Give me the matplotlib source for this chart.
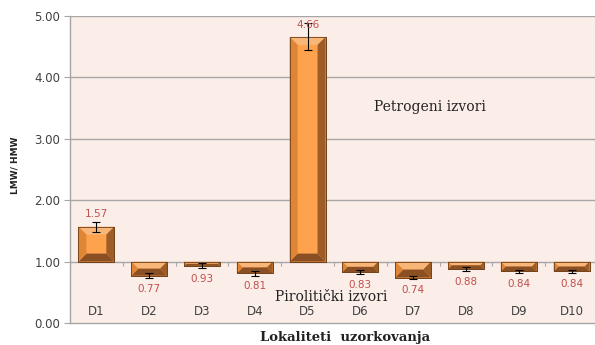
import matplotlib
matplotlib.use("Agg")
import matplotlib.pyplot as plt
from matplotlib.patches import Polygon
import numpy as np

# Data
sites = ["D1", "D2", "D3", "D4", "D5", "D6", "D7", "D8", "D9", "D10"]
ratios = [1.57, 0.77, 0.93, 0.81, 4.66, 0.83, 0.74, 0.88, 0.84, 0.84]
errors = [0.08, 0.04, 0.04, 0.04, 0.22, 0.03, 0.03, 0.03, 0.03, 0.03]
yticks = [0.0, 1.0, 2.0, 3.0, 4.0, 5.0]
baseline = 1.0

# Colours
plot_bg = "#FBEEE9"
grid_col = "#A6A6A6"
face_col = "#FFA24E"
top_col = "#F9B679"
left_col = "#DE8636"
right_col = "#9E5D27"
bottom_col = "#8A5023"
edge_col = "#6E3E16"
label_red = "#C0504D"
text_gray = "#404040"

fig = plt.figure(figsize=(5.95, 3.45), dpi=100)
fig.patch.set_facecolor("white")
ax = fig.add_axes([70 / 595, 1 - 323 / 345, 528 / 595, 307 / 345])
ax.set_facecolor(plot_bg)

x = np.arange(len(sites))
ax.set_xlim(-0.5, len(sites) - 0.5)
ax.set_ylim(0, 5)

# Gridlines
for t in yticks[1:]:
    ax.axhline(t, color=grid_col, lw=1.0, zorder=1)

heights = [v - baseline for v in ratios]
width = 0.68
bars = ax.bar(x, heights, width=width, bottom=baseline, color=face_col,
              edgecolor=edge_col, linewidth=0.5, zorder=2)

# Bevelled edges on each bar, sized in pixels
fig.canvas.draw()
to_px = ax.transData
to_data = ax.transData.inverted()
for rect in bars:
    x0, y0 = rect.get_x(), rect.get_y()
    x1, y1 = x0 + rect.get_width(), y0 + rect.get_height()
    lo, hi = min(y0, y1), max(y0, y1)
    (X0, Y0), (X1, Y1) = to_px.transform([(x0, lo), (x1, hi)])
    b = min(8.0, 0.5 * (X1 - X0), 0.5 * (Y1 - Y0))
    pieces = [
        ([(X0, Y1), (X1, Y1), (X1 - b, Y1 - b), (X0 + b, Y1 - b)], top_col),
        ([(X0, Y0), (X1, Y0), (X1 - b, Y0 + b), (X0 + b, Y0 + b)], bottom_col),
        ([(X0, Y0), (X0, Y1), (X0 + b, Y1 - b), (X0 + b, Y0 + b)], left_col),
        ([(X1, Y0), (X1, Y1), (X1 - b, Y1 - b), (X1 - b, Y0 + b)], right_col),
    ]
    for pts, col in pieces:
        poly = Polygon(to_data.transform(pts), closed=True, facecolor=col,
                       edgecolor="none", zorder=2.1)
        ax.add_patch(poly)
    ax.add_patch(Polygon(to_data.transform([(X0, Y0), (X1, Y0), (X1, Y1), (X0, Y1)]),
                         closed=True, facecolor="none", edgecolor=edge_col,
                         linewidth=0.6, zorder=2.2))

# Error bars
ax.errorbar(x, ratios, yerr=errors, fmt="none", ecolor="black",
            elinewidth=0.8, capsize=3, capthick=0.8, zorder=3)

# Value labels
for xi, v in zip(x, ratios):
    if v >= baseline:
        ax.text(xi, v + 0.20, f"{v:.2f}", ha="center", va="center",
                color=label_red, fontsize=7.5, zorder=4)
    else:
        ax.text(xi, v - 0.21, f"{v:.2f}", ha="center", va="center",
                color=label_red, fontsize=7.5, zorder=4)

# Category labels drawn inside the plot area
for xi, s in zip(x, sites):
    ax.text(xi, 0.18, s, ha="center", va="center", color=text_gray,
            fontsize=8.5, zorder=4)

# Small tick marks on the baseline between categories
bounds = np.arange(-0.5, len(sites), 1.0)
ax.vlines(bounds, baseline - 0.07, baseline, color=grid_col, lw=0.8, zorder=1.5)

# Axes styling
ax.set_xticks([])
ax.set_yticks(yticks)
ax.set_yticklabels([f"{t:.2f}" for t in yticks], color=text_gray, fontsize=8.5)
ax.tick_params(axis="y", length=4, color=grid_col, pad=3)
for side in ["top", "right"]:
    ax.spines[side].set_visible(False)
ax.spines["left"].set_color(grid_col)
ax.spines["bottom"].set_color(grid_col)
ax.spines["left"].set_linewidth(1.0)
ax.spines["bottom"].set_linewidth(1.0)

# Annotations
fig.text(430 / 595, 1 - 107 / 345, "Petrogeni izvori", fontsize=10,
         family="DejaVu Serif", color="#222222", ha="center", va="center")
fig.text(331 / 595, 1 - 297 / 345, "Pirolitički izvori", fontsize=10,
         family="DejaVu Serif", color="#222222", ha="center", va="center")
fig.text(345 / 595, 1 - 337 / 345, "Lokaliteti  uzorkovanja", fontsize=9.5,
         family="DejaVu Serif", fontweight="bold", color="#222222",
         ha="center", va="center")
fig.text(15 / 595, 1 - 165 / 345, "LMW/ HMW", rotation=90, fontsize=6.5,
         fontweight="bold", color="#222222", ha="center", va="center")

fig.savefig("out.png", dpi=100, facecolor="white")
